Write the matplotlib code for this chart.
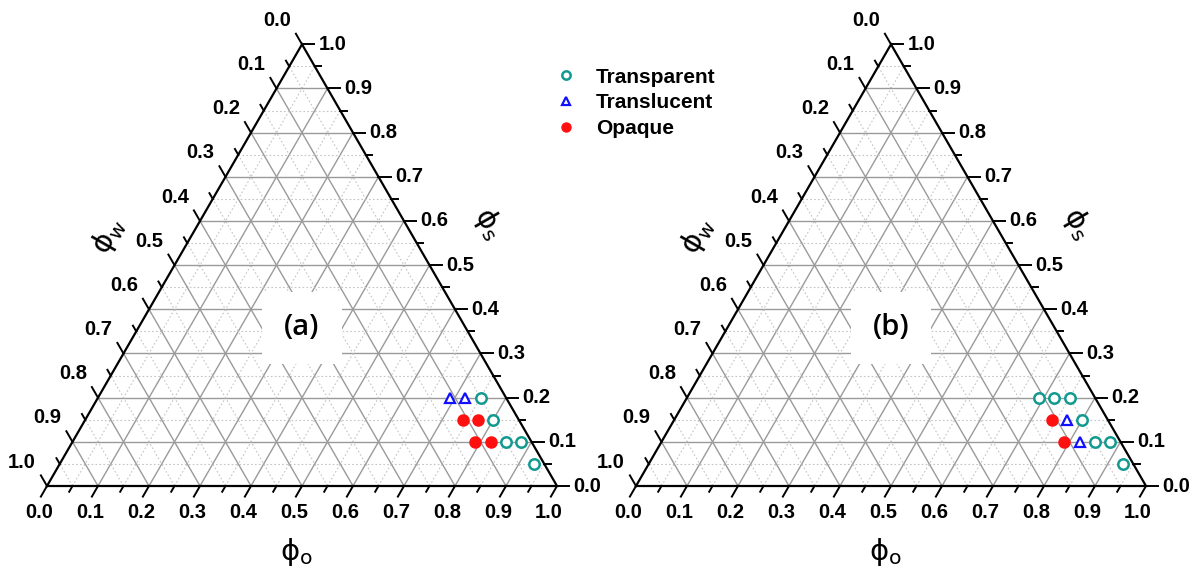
import numpy as np
import matplotlib
matplotlib.use("Agg")
import matplotlib.pyplot as plt
from matplotlib.lines import Line2D

# ---------------- data (phi_o, phi_s); phi_w = 1 - phi_o - phi_s ----------------
a_transparent_o = [0.75, 0.80, 0.85, 0.88, 0.93]
a_transparent_s = [0.20, 0.15, 0.10, 0.10, 0.05]
a_translucent_o = [0.69, 0.72]
a_translucent_s = [0.20, 0.20]
a_opaque_o = [0.74, 0.77, 0.79, 0.82]
a_opaque_s = [0.15, 0.15, 0.10, 0.10]

b_transparent_o = [0.69, 0.72, 0.75, 0.80, 0.85, 0.88, 0.93]
b_transparent_s = [0.20, 0.20, 0.20, 0.15, 0.10, 0.10, 0.05]
b_translucent_o = [0.77, 0.82]
b_translucent_s = [0.15, 0.10]
b_opaque_o = [0.74, 0.79]
b_opaque_s = [0.15, 0.10]

tick_values = [0.0, 0.1, 0.2, 0.3, 0.4, 0.5, 0.6, 0.7, 0.8, 0.9, 1.0]
tick_labels = ["0.0", "0.1", "0.2", "0.3", "0.4", "0.5", "0.6", "0.7", "0.8", "0.9", "1.0"]
panel_labels = ["(a)", "(b)"]
legend_labels = ["Transparent", "Translucent", "Opaque"]

# ---------------- styling ----------------
H = np.sqrt(3) / 2
TEAL = "#129a90"
BLUE = "#1010ff"
RED = "#ff1010"
FONT = "Liberation Sans"
W_PX, H_PX = 1197, 584
S = 510.0  # triangle side in pixels


def tern(o, s):
    o = np.asarray(o, float)
    s = np.asarray(s, float)
    return o + 0.5 * s, H * s


fig = plt.figure(figsize=(W_PX / 100, H_PX / 100), dpi=100)

XL = (-0.08, 1.08)
YL = (-0.12, 0.90)


def make_axes(x0, y0):
    left = (x0 + XL[0] * S) / W_PX
    width = (XL[1] - XL[0]) * S / W_PX
    bottom = (H_PX - (y0 - YL[0] * S)) / H_PX
    height = (YL[1] - YL[0]) * S / H_PX
    ax = fig.add_axes([left, bottom, width, height])
    ax.set_xlim(*XL)
    ax.set_ylim(*YL)
    ax.axis("off")
    return ax


def draw_ternary(ax, label, series):
    # grid lines
    for k in range(1, 20):
        c = k * 0.05
        major = (k % 2 == 0)
        kw = dict(color="#9a9a9a", lw=1.0, ls="-") if major else dict(color="#c4c4c4", lw=0.8, ls=(0, (1.5, 2)))
        x, y = tern([0, 1 - c], [c, c]); ax.plot(x, y, zorder=1, **kw)
        x, y = tern([c, c], [0, 1 - c]); ax.plot(x, y, zorder=1, **kw)
        x, y = tern([1 - c, 0], [0, 1 - c]); ax.plot(x, y, zorder=1, **kw)
    # frame
    x, y = tern([0, 1, 0, 0], [0, 0, 1, 0])
    ax.plot(x, y, color="black", lw=1.6, zorder=3, solid_joinstyle="miter")
    # ticks
    for k in range(0, 21):
        v = k * 0.05
        L = 0.024 if k % 2 == 0 else 0.013
        x, y = tern(v, 0)
        ax.plot([x, x - 0.5 * L], [y, y - H * L], color="black", lw=1.4, zorder=3)
        x, y = tern(1 - v, v)
        ax.plot([x, x + L], [y, y], color="black", lw=1.4, zorder=3)
        x, y = tern(0, 1 - v)
        ax.plot([x, x - 0.5 * L], [y, y + H * L], color="black", lw=1.4, zorder=3)
    tk = dict(fontsize=14.5, fontweight="bold", family=FONT, ha="center", va="center")
    for v, t in zip(tick_values, tick_labels):
        x, y = tern(v, 0)
        ax.text(x - 0.016, y - 0.051, t, **tk)
        x, y = tern(1 - v, v)
        ax.text(x + 0.06, y, t, **tk)
        x, y = tern(0, 1 - v)
        ax.text(x - 0.049, y + 0.047, t, **tk)
    # axis titles
    ax.text(0.12, 0.49, "ϕ$_\\mathregular{w}$", fontsize=21, rotation=60, ha="center", va="center", family="DejaVu Sans")
    ax.text(0.866, 0.515, "ϕ$_\\mathregular{s}$", fontsize=21, rotation=-60, ha="center", va="center", family="DejaVu Sans")
    ax.text(0.49, -0.13, "ϕ$_\\mathregular{o}$", fontsize=21, ha="center", va="center", family="DejaVu Sans")
    # panel label
    ax.text(0.5, 0.31, label, fontsize=21, ha="center", va="center", family="Open Sans", fontweight="semibold",
            bbox=dict(facecolor="white", edgecolor="none", boxstyle="square,pad=0.75"), zorder=4)
    # data
    (to, ts), (lo, ls), (po, ps) = series
    x, y = tern(to, ts)
    h1 = ax.plot(x, y, "o", ms=7.5, mfc="white", mec=TEAL, mew=1.8, ls="none", zorder=5)[0]
    x, y = tern(lo, ls)
    h2 = ax.plot(x, y, "^", ms=7.5, mfc="white", mec=BLUE, mew=1.6, ls="none", zorder=5)[0]
    x, y = tern(po, ps)
    h3 = ax.plot(x, y, "o", ms=8, mfc=RED, mec=RED, mew=1, ls="none", zorder=5)[0]
    return [h1, h2, h3]


ax_a = make_axes(47, 486)
ax_b = make_axes(636, 486)
draw_ternary(ax_a, panel_labels[0], [(a_transparent_o, a_transparent_s),
                                     (a_translucent_o, a_translucent_s),
                                     (a_opaque_o, a_opaque_s)])
draw_ternary(ax_b, panel_labels[1], [(b_transparent_o, b_transparent_s),
                                     (b_translucent_o, b_translucent_s),
                                     (b_opaque_o, b_opaque_s)])

leg_handles = [
    Line2D([], [], marker="o", ms=6, mfc="white", mec=TEAL, mew=1.8, ls="none"),
    Line2D([], [], marker="^", ms=6, mfc="white", mec=BLUE, mew=1.6, ls="none"),
    Line2D([], [], marker="o", ms=6.5, mfc=RED, mec=RED, ls="none"),
]
fig.legend(leg_handles, legend_labels, loc="upper left", bbox_to_anchor=(541 / W_PX, 1 - 53 / H_PX),
           frameon=False, prop=dict(family=FONT, weight="bold", size=15), handlelength=1.0,
           handletextpad=0.95, labelspacing=0.32, borderpad=0.2)

fig.savefig("out.png", dpi=100)
